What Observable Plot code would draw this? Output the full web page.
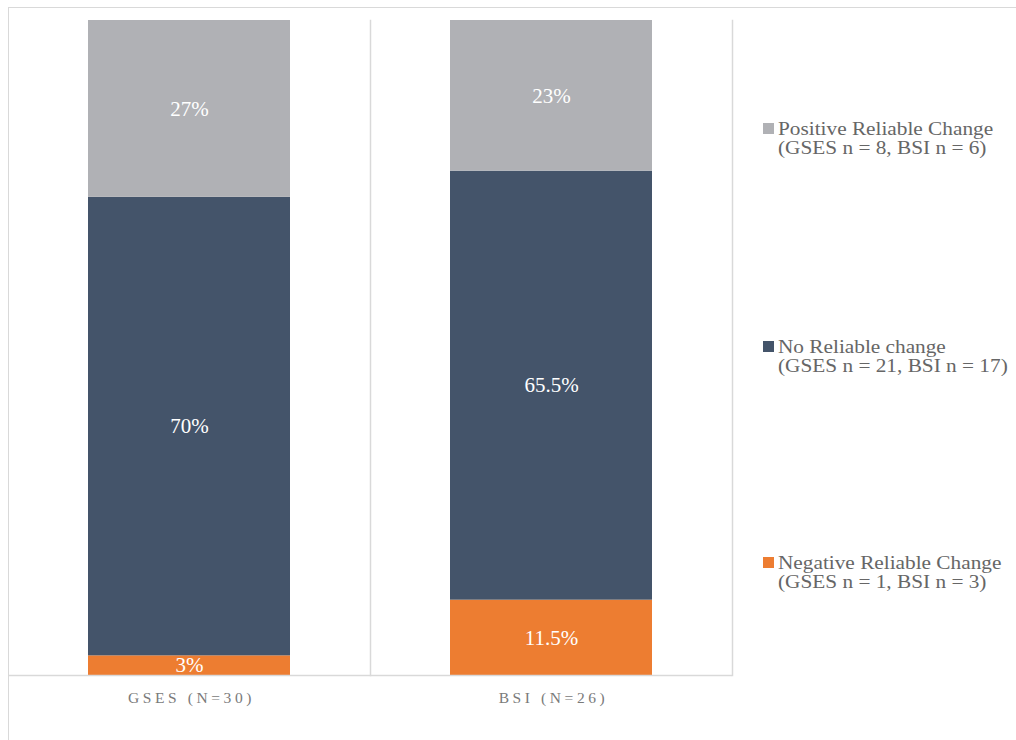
<!DOCTYPE html>
<html>
<head>
<meta charset="utf-8">
<script src="https://cdn.jsdelivr.net/npm/d3@7"></script>
<script src="https://cdn.jsdelivr.net/npm/@observablehq/plot@0.6"></script>
<style>
  html, body { margin: 0; padding: 0; background: #fff; }
  #wrap { position: relative; width: 1016px; height: 740px; overflow: hidden; }
  #border { position: absolute; left: 8px; top: 7px; width: 1100px; height: 800px;
            border-top: 1.5px solid #d9d9d9; border-left: 1.5px solid #d9d9d9; }
  #chart { position: absolute; left: 0; top: 0; }
  #legend { position: absolute; left: 0; top: 0; font-family: "Liberation Serif", "Times New Roman", serif;
            font-size: 19px; color: #666; line-height: 19.5px; }
  .item { position: absolute; left: 778px; white-space: nowrap; }
  .txt { display: inline-block; transform: scaleX(1.12); transform-origin: left top; }
  .sw { position: absolute; left: -15px; top: 4.5px; width: 10.5px; height: 10.5px; }
  g[aria-label="fx-axis tick label"] text { letter-spacing: 3.6px; }
</style>
</head>
<body>
<div id="wrap">
  <div id="border"></div>
  <div id="chart"></div>
  <div id="legend"></div>
</div>
<script>
const categories = ["GSES (N=30)", "BSI (N=26)"];
const series = ["Negative Reliable Change", "No Reliable change", "Positive Reliable Change"];
const gsesPct = [3, 70, 27];
const bsiPct = [11.5, 65.5, 23];
const gsesN = [1, 21, 8];
const bsiN = [3, 17, 6];
const colors = ["#ED7D31", "#44546A", "#B0B1B5"];

const data = [];
series.forEach((s, i) => {
  data.push({category: categories[0], series: s, value: gsesPct[i]});
  data.push({category: categories[1], series: s, value: bsiPct[i]});
});

const chart = Plot.plot({
  width: 1016,
  height: 740,
  marginLeft: 8,
  marginRight: 284,
  marginTop: 20,
  marginBottom: 65,
  style: {background: "transparent"},
  fx: {domain: categories, padding: 0, label: null},
  x: {domain: ["all"], paddingInner: 0, paddingOuter: 0.396, axis: null},
  y: {domain: [0, 100], axis: null},
  color: {domain: series, range: colors},
  marks: [
    Plot.frame({anchor: "right", stroke: "#d9d9d9", strokeWidth: 1.5}),
    Plot.barY(data, Plot.stackY({
      fx: "category", x: () => "all", y: "value", z: "series", fill: "series", order: series
    })),
    Plot.text(data, Plot.stackY({
      fx: "category", x: () => "all", y: "value", z: "series", order: series,
      text: d => d.value + "%", fill: "white", fontSize: 21,
      fontFamily: "Liberation Serif, Times New Roman, serif"
    })),
    Plot.ruleY([0], {stroke: "#d9d9d9", strokeWidth: 1.5}),
    Plot.axisFx({anchor: "bottom", tickSize: 0, tickPadding: 16, label: null, dx: 2,
      fontSize: 15.5, fontFamily: "Liberation Serif, Times New Roman, serif", fill: "#7a7a7a"})
  ]
});
document.getElementById("chart").appendChild(chart);

const legendTops = [118.5, 336.5, 552.5];
const leg = document.getElementById("legend");
[2, 1, 0].forEach((i, k) => {
  const div = document.createElement("div");
  div.className = "item";
  div.style.top = legendTops[k] + "px";
  div.innerHTML = `<span class="sw" style="background:${colors[i]}"></span><span class="txt">${series[i]}<br>(GSES n = ${gsesN[i]}, BSI n = ${bsiN[i]})</span>`;
  leg.appendChild(div);
});
</script>
</body>
</html>
